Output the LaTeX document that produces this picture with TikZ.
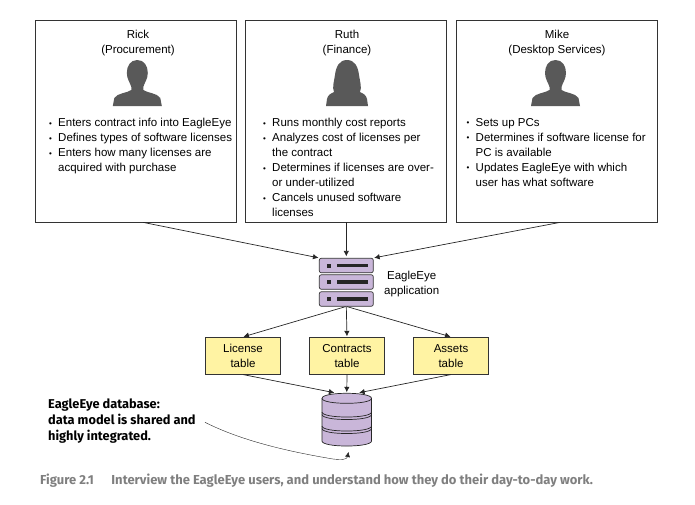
\documentclass[tikz,border=0pt]{standalone}
\usepackage{fontspec}
\setmainfont{Liberation Sans}
\newfontfamily\notefont{Fira Sans}
\usetikzlibrary{arrows.meta}

\definecolor{srvpurple}{HTML}{C9B6D9}
\definecolor{tabyellow}{HTML}{FFF3A3}
\definecolor{icongray}{HTML}{595959}
\definecolor{capgray}{HTML}{7F7F7F}

\newcommand{\bul}{\makebox[9pt][l]{\raisebox{.5pt}{\footnotesize •}}}
\newcommand{\ind}{\hspace*{9pt}}

\tikzset{
  userbox/.style={draw=black!80,line width=0.7pt,minimum width=201pt,minimum height=202pt},
  usertext/.style={align=center,font=\fontsize{11.5}{15}\selectfont},
  listtext/.style={anchor=north west,align=left,font=\fontsize{11.5}{15}\selectfont},
  srvbox/.style={draw=black!80,fill=srvpurple,rounded corners=2pt,line width=0.7pt,minimum width=54pt,minimum height=14.5pt},
  tabbox/.style={draw=black!80,fill=tabyellow,line width=0.7pt,minimum width=75.5pt,minimum height=37pt,align=center,font=\fontsize{11.5}{15}\selectfont},
  link/.style={draw=black!85,line width=0.7pt,shorten >=0.5pt,-{Latex[length=5.5pt,width=5.5pt]}},
  dbline/.style={draw=black!85,line width=0.7pt},
  pics/maleicon/.style={code={
    \fill [icongray] (0,0) .. controls (7,0) and (10.5,6) .. (10.5,13) .. controls (10.5,19) and (7,23) .. (6,27)
      -- (6,30) .. controls (10,33) and (20,33) .. (23,38) -- (24.5,46) -- (-24.5,46) -- (-23,38)
      .. controls (-20,33) and (-10,33) .. (-6,30) -- (-6,27) .. controls (-7,23) and (-10.5,19) .. (-10.5,13)
      .. controls (-10.5,6) and (-7,0) .. (0,0) -- cycle;
  }},
  pics/femaleicon/.style={code={
    \fill [icongray] (0,0) .. controls (8,0) and (11,7) .. (12,15) .. controls (13,22) and (15,27) .. (13,32)
      .. controls (17,34) and (19,35) .. (20,39) -- (21,46) -- (-21,46) -- (-20,39)
      .. controls (-19,35) and (-17,34) .. (-13,32) .. controls (-15,27) and (-13,22) .. (-12,15)
      .. controls (-11,7) and (-8,0) .. (0,0) -- cycle;
  }}
}

\begin{document}
\begin{tikzpicture}[x=1pt,y=-1pt]
\useasboundingbox (0,0) rectangle (695,504);
\tikzstyle{every node}+=[inner sep=0pt]
% users
\node [userbox] (rick) at (136,121) {};
\node [userbox] (ruth) at (345.6,121) {};
\node [userbox] (mike) at (556.6,121) {};
\node [usertext] (rickname) at (138,43.5) {Rick\\(Procurement)};
\node [usertext] (ruthname) at (347,43.5) {Ruth\\(Finance)};
\node [usertext] (mikename) at (557,43.5) {Mike\\(Desktop Services)};
\pic at (137.3,60) {maleicon};
\pic at (347,60) {femaleicon};
\pic at (555.5,60) {maleicon};
\node [listtext] (ricklist) at (49,118) {\bul Enters contract info into EagleEye\\
\bul Defines types of software licenses\\
\bul Enters how many licenses are\\
\ind acquired with purchase};
\node [listtext] (ruthlist) at (263,118) {\bul Runs monthly cost reports\\
\bul Analyzes cost of licenses per\\
\ind the contract\\
\bul Determines if licenses are over-\\
\ind or under-utilized\\
\bul Cancels unused software\\
\ind licenses};
\node [listtext] (mikelist) at (466.5,118) {\bul Sets up PCs\\
\bul Determines if software license for\\
\ind PC is available\\
\bul Updates EagleEye with which\\
\ind user has what software};
% application
\node [srvbox] (srvtop) at (346.3,265.5) {};
\node [srvbox] (srvmid) at (346.3,282) {};
\node [srvbox] (srvbot) at (346.3,299) {};
\foreach \n in {srvtop,srvmid,srvbot} {
  \fill [black!85] ([xshift=-19.5pt,yshift=2pt]\n.center) rectangle +(4,4);
  \fill [black!85] ([xshift=-9.5pt,yshift=1.7pt]\n.center) rectangle +(31,3.4);
}
\node [usertext] (appname) at (411.7,284.5) {EagleEye\\application};
% tables
\node [tabbox] (license) at (243,355.7) {License\\table};
\node [tabbox] (contracts) at (347,355.7) {Contracts\\table};
\node [tabbox] (assets) at (451,355.7) {Assets\\table};
% database
\node [minimum width=49.5pt,minimum height=53pt] (dbase) at (346.75,419.5) {};
\filldraw [dbline,fill=srvpurple] (322,398.3) .. controls (322,391.6) and (371.5,391.6) .. (371.5,398.3)
  -- (371.5,441) .. controls (371.5,447.7) and (322,447.7) .. (322,441) -- cycle;
\foreach \y in {398.3,412,414.5,426,428.5} {
  \draw [dbline] (322,\y) .. controls (322,\y+6.7) and (371.5,\y+6.7) .. (371.5,\y);
}
% connectors
\draw [link] (rick.-86) -- (srvtop.north west);
\draw [link,shorten >=1.5pt] (ruth.south -| srvtop.north) -- (srvtop.north);
\draw [link] (mike.-88) -- (srvtop.north east);
\draw [link] (srvbot.-95) -- (license.north);
\draw [link] (srvbot.south) -- (contracts.north);
\draw [link] (srvbot.-85) -- (assets.north);
\draw [link] (license.south) -- (dbase.114);
\draw [link] (contracts.south) -- (dbase.north);
\draw [link] (assets.south) -- (dbase.66);
% note
\node [anchor=north west,align=left,font=\notefont\bfseries\fontsize{12.8}{16}\selectfont] (note) at (48,398.5)
  {EagleEye database:\\data model is shared and\\highly integrated.};
\coordinate (noteend) at (205,422.3);
\coordinate (notetip) at (348.5,452);
\draw [draw=black!85,line width=0.4pt,-{Latex[length=5pt,width=5pt]}] (noteend) .. controls (240,440) and (285,451) .. (333,459)
  .. controls (342,460) and (347,459.5) .. (notetip);
% caption
\node [anchor=west,text=capgray,font=\notefont\bfseries\fontsize{13}{15}\selectfont] (caption) at (40,481)
  {Figure 2.1\hspace{17.5pt}Interview the EagleEye users, and understand how they do their day-to-day work.};
\end{tikzpicture}
\end{document}
